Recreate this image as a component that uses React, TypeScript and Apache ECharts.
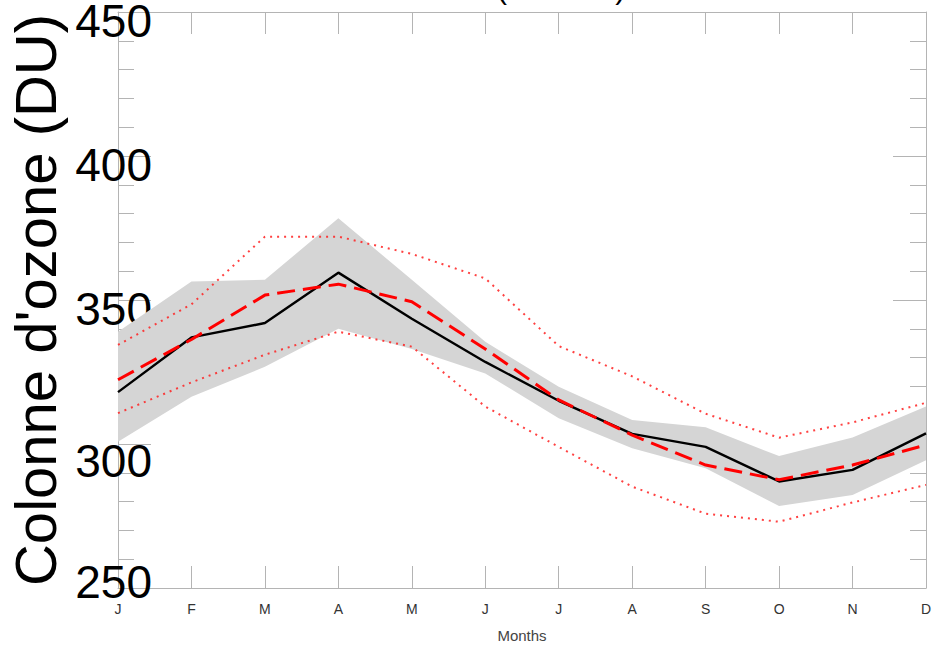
import React, { useEffect, useRef } from 'react';
import * as echarts from 'echarts';

const months = ['J', 'F', 'M', 'A', 'M', 'J', 'J', 'A', 'S', 'O', 'N', 'D'];
const observed = [318, 337, 342, 359.5, 343.5, 328.5, 315, 303.5, 299, 287, 291, 303.7];
const model = [322.3, 336.3, 351.7, 355.5, 349.4, 333, 315.3, 303.1, 292.7, 287.6, 292.7, 299.7];
const modelUpper = [334.4, 348.5, 372, 372, 366, 357.5, 334, 323.5, 310.5, 302.2, 307.5, 314.3];
const modelLower = [310.7, 321.4, 331, 339, 333.8, 313, 299, 285.2, 275.8, 273, 279.7, 285.8];
const bandUpper = [339, 356.4, 357, 378.4, 357, 335.5, 319.9, 308.3, 305.8, 295.8, 302.3, 313];
const bandLower = [300.8, 316.4, 326.8, 340, 333, 324.5, 308.9, 298.5, 291.6, 278.5, 282.3, 294.4];
const yTicks = [250, 300, 350, 400, 450];

export default function App() {
  const ref = useRef<HTMLDivElement>(null);
  useEffect(() => {
    const chart = echarts.init(ref.current!, null, { renderer: 'svg' });
    const font = 'Liberation Sans, Arial, sans-serif';
    const axisColor = '#b4b4b4';
    const bandWidth = bandUpper.map((u, i) => u - bandLower[i]);
    chart.setOption({
      animation: false,
      backgroundColor: '#ffffff',
      grid: { left: 118, top: 12, right: 7, bottom: 59, containLabel: false, outerBoundsMode: 'none' },
      graphic: [
        {
          type: 'text',
          left: 497,
          top: -27,
          style: { text: '(             )', fontSize: 30, fill: '#000', fontFamily: font },
        },
      ],
      xAxis: [
        {
          type: 'category',
          data: months,
          boundaryGap: false,
          position: 'bottom',
          axisLine: { lineStyle: { color: axisColor, width: 1 } },
          axisTick: { inside: true, length: 22, lineStyle: { color: axisColor } },
          axisLabel: { color: '#333', fontSize: 14, fontFamily: font, margin: 14 },
          splitLine: { show: false },
          name: 'Months',
          nameLocation: 'middle',
          nameGap: 40,
          nameTextStyle: { color: '#444', fontSize: 15, fontFamily: font },
        },
        {
          type: 'category',
          data: months,
          boundaryGap: false,
          position: 'top',
          axisLine: { lineStyle: { color: axisColor, width: 1 } },
          axisTick: { inside: true, length: 22, lineStyle: { color: axisColor } },
          axisLabel: { show: false },
          splitLine: { show: false },
        },
      ],
      yAxis: [
        {
          type: 'value',
          min: yTicks[0],
          max: yTicks[yTicks.length - 1],
          interval: 50,
          position: 'left',
          axisLine: { show: true, lineStyle: { color: axisColor, width: 1 } },
          axisTick: { show: true, inside: true, length: 33, lineStyle: { color: axisColor } },
          minorTick: { show: true, splitNumber: 5, length: 16, lineStyle: { color: axisColor } },
          splitLine: { show: false },
          axisLabel: {
            color: '#000',
            fontSize: 46,
            fontFamily: font,
            margin: -34,
            formatter: (v: number) => (v === 250 ? `{d|${v}}` : v === 300 ? `{c|${v}}` : `{a|${v}}`),
            rich: {
              a: { fontSize: 46, fontFamily: font, color: '#000', padding: [18, 0, 0, 0] },
              c: { fontSize: 46, fontFamily: font, color: '#000', padding: [34, 0, 0, 0] },
              d: { fontSize: 46, fontFamily: font, color: '#000', padding: [0, 0, 12, 0] },
            },
          },
          name: "Colonne d'ozone (DU)",
          nameLocation: 'middle',
          nameRotate: 90,
          nameGap: 52,
          nameTextStyle: { fontSize: 58, color: '#000', fontFamily: font },
        },
        {
          type: 'value',
          min: yTicks[0],
          max: yTicks[yTicks.length - 1],
          interval: 50,
          position: 'right',
          axisLine: { show: true, lineStyle: { color: axisColor, width: 1 } },
          axisTick: { show: true, inside: true, length: 33, lineStyle: { color: axisColor } },
          minorTick: { show: true, splitNumber: 5, length: 16, lineStyle: { color: axisColor } },
          splitLine: { show: false },
          axisLabel: { show: false },
        },
      ],
      series: [
        {
          type: 'line',
          data: bandLower,
          stack: 'band',
          showSymbol: false,
          silent: true,
          lineStyle: { width: 0, opacity: 0 },
          z: 1,
        },
        {
          type: 'line',
          data: bandWidth,
          stack: 'band',
          showSymbol: false,
          silent: true,
          lineStyle: { width: 0, opacity: 0 },
          areaStyle: { color: '#d5d5d5', opacity: 1 },
          z: 1,
        },
        {
          type: 'line',
          data: modelUpper,
          showSymbol: false,
          lineStyle: { color: '#ff2020', width: 2, type: [2, 5], opacity: 0.85 },
          z: 3,
        },
        {
          type: 'line',
          data: modelLower,
          showSymbol: false,
          lineStyle: { color: '#ff2020', width: 2, type: [2, 5], opacity: 0.85 },
          z: 3,
        },
        {
          type: 'line',
          data: observed,
          showSymbol: false,
          lineStyle: { color: '#000', width: 2.4 },
          z: 4,
        },
        {
          type: 'line',
          data: model,
          showSymbol: false,
          lineStyle: { color: '#ff0000', width: 3, type: [18, 8] },
          z: 5,
        },
      ],
    });
    return () => chart.dispose();
  }, []);
  return <div ref={ref} style={{ position: 'fixed', left: 0, top: 0, width: 933, height: 647 }} />;
}
